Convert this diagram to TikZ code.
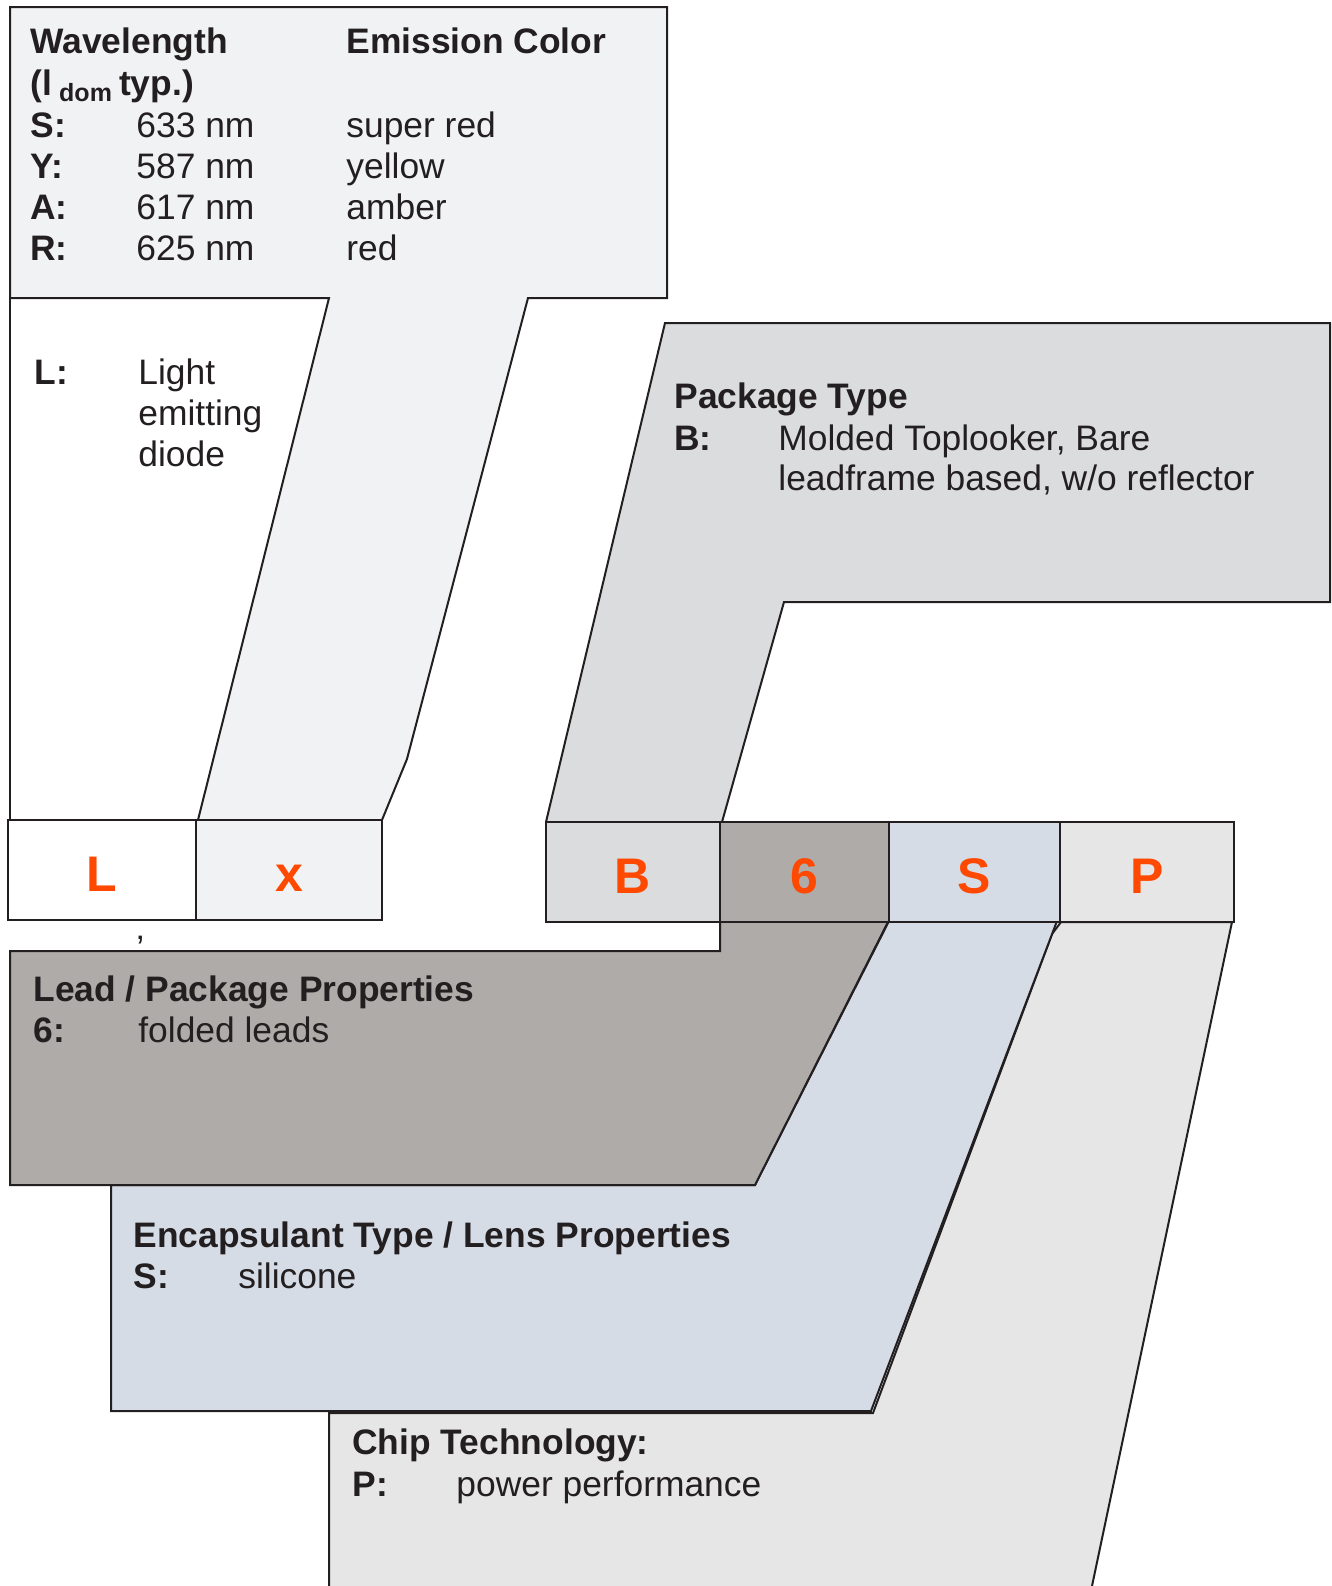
\documentclass[tikz,border=0pt]{standalone}
\usepackage{fontspec}
\setmainfont{Liberation Sans}
\usetikzlibrary{positioning}
\definecolor{edge}{HTML}{231F20}
\definecolor{ledorange}{RGB}{255,72,0}
\definecolor{wavefill}{HTML}{F1F2F4}
\definecolor{pkgfill}{HTML}{DBDCDE}
\definecolor{leadfill}{HTML}{AFABA9}
\definecolor{lensfill}{HTML}{D5DCE6}
\definecolor{chipfill}{HTML}{E6E6E6}
\newcommand\bodysize{\fontsize{17.7}{20.5}\selectfont}
\newcommand\cellsize{\fontsize{25}{25}\selectfont\bfseries}

\begin{document}
\begin{tikzpicture}[x=0.5pt, y=-0.5pt,
  outline/.style={draw=edge, line width=1pt},
  cell/.style={outline, inner sep=0pt, outer sep=0pt, minimum height=50pt, text height=21pt, text depth=0pt, text=ledorange, font=\cellsize},
  txt/.style={anchor=base west, inner sep=0pt, text=edge, font=\bodysize},
  hd/.style={txt, font=\bodysize\bfseries}]
  \useasboundingbox (0,0) rectangle (1332,1586);
  \filldraw[outline, fill=chipfill] (329,1586) -- (329,1413) -- (873,1413) -- (1052,934) -- (1061,922) -- (1232,922) -- (1092,1586);
  \filldraw[outline, fill=lensfill] (889,921) -- (1057,921) -- (871,1411) -- (111,1411) -- (111,1185) -- (755,1185) -- cycle;
  \filldraw[outline, fill=leadfill] (720,920) -- (720,951) -- (10,951) -- (10,1185) -- (755,1185) -- (889,920) -- cycle;
  \filldraw[outline, fill=pkgfill] (546,822) -- (665,323) -- (1330,323) -- (1330,602) -- (784,602) -- (722,822);
  \filldraw[outline, fill=wavefill] (198,820) -- (329,298) -- (10,298) -- (10,7) -- (667,7) -- (667,298) -- (528,298) -- (407,759) -- (382,820);
  \draw[outline] (10,298) -- (10,820);
  \node[cell, fill=white, minimum width=94pt] (led) at (102,870) {L};
  \node[cell, fill=wavefill, minimum width=93pt, right=0pt of led] (color) {x};
  \node[cell, fill=pkgfill, minimum width=87pt] (pkg) at (633,872) {B};
  \node[cell, fill=leadfill, minimum width=84.5pt, right=0pt of pkg] (lead) {6};
  \node[cell, fill=lensfill, minimum width=85.5pt, right=0pt of lead] (lens) {S};
  \node[cell, fill=chipfill, minimum width=87pt, right=0pt of lens] (chip) {P};
  \node[txt] (tick) at (136,960) {’};
  \node[hd] (wl) at (30,53) {Wavelength};
  \node[hd] (ec) at (346,53) {Emission Color};
  \node[hd] (idom) at (30,95) {(l\hspace{3.6pt}\raisebox{-3pt}{\fontsize{12.5}{12.5}\selectfont dom}\hspace{3.6pt}typ.)};
  \foreach \k/\nm/\col [count=\i] in {S/633/super red, Y/587/yellow, A/617/amber, R/625/red} {
    \node[hd] (key\i) at (30,{137.5+41*(\i-1)}) {\k:};
    \node[txt] (nm\i) at (136,{137.5+41*(\i-1)}) {\nm\ nm};
    \node[txt] (col\i) at (346,{137.5+41*(\i-1)}) {\col};
  }
  \node[hd] (ledkey) at (34,384) {L:};
  \node[txt] (led1) at (138,384) {Light};
  \node[txt] (led2) at (138,425) {emitting};
  \node[txt] (led3) at (138,466) {diode};
  \node[hd] (pkghd) at (674,408) {Package Type};
  \node[hd] (pkgkey) at (674,450) {B:};
  \node[txt] (pkg1) at (778,450) {Molded Toplooker, Bare};
  \node[txt] (pkg2) at (778,490) {leadframe based, w/o reflector};
  \node[hd] (leadhd) at (33,1001) {Lead / Package Properties};
  \node[hd] (leadkey) at (33,1042) {6:};
  \node[txt] (lead1) at (138,1042) {folded leads};
  \node[hd] (lenshd) at (133,1247) {Encapsulant Type / Lens Properties};
  \node[hd] (lenskey) at (133,1288) {S:};
  \node[txt] (lens1) at (238,1288) {silicone};
  \node[hd] (chiphd) at (352,1454) {Chip Technology:};
  \node[hd] (chipkey) at (352,1496) {P:};
  \node[txt] (chip1) at (456,1496) {power performance};
\end{tikzpicture}
\end{document}
